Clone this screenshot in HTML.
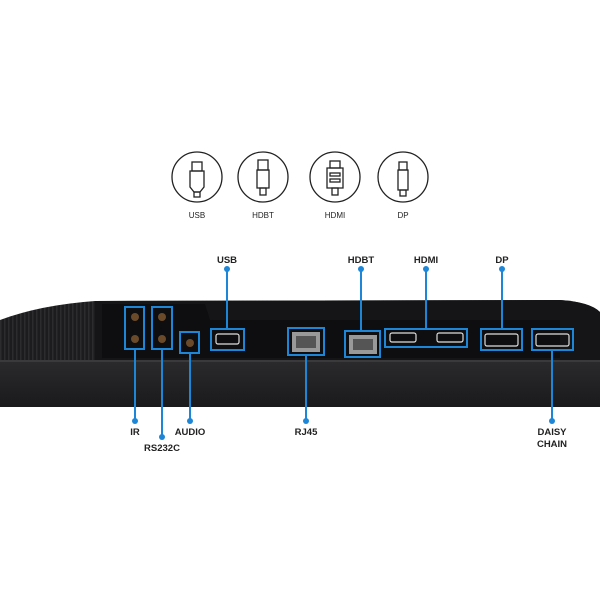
<!DOCTYPE html>
<html><head><meta charset="utf-8"><style>body{margin:0;background:#fff}svg{display:block}</style></head><body>
<svg width="600" height="600" viewBox="0 0 600 600" xmlns="http://www.w3.org/2000/svg" font-family="Liberation Sans, sans-serif">
<defs>
<linearGradient id="bar" x1="0" y1="0" x2="0" y2="1"><stop offset="0" stop-color="#2a2a2c"/><stop offset="1" stop-color="#1a1a1c"/></linearGradient>
<pattern id="grv" width="4" height="10" patternUnits="userSpaceOnUse"><rect width="4" height="10" fill="#1c1c1e"/><rect width="1.5" height="10" fill="#2c2c2e"/></pattern>
</defs>
<!-- icons -->
<g fill="none" stroke="#222" stroke-width="1.3">
<circle cx="197" cy="177" r="25"/><circle cx="263" cy="177" r="25"/><circle cx="335" cy="177" r="25"/><circle cx="403" cy="177" r="25"/>
<rect x="192" y="162" width="10" height="9"/><path d="M190 171h14v16l-4 5h-6l-4-5z"/><rect x="194" y="192" width="6" height="5"/>
<rect x="258" y="160" width="10" height="10"/><path d="M257 170h12v18h-12z"/><rect x="260" y="188" width="6" height="7"/>
<rect x="330" y="161" width="10" height="7"/><path d="M327 168h16v20h-16z"/><rect x="330" y="173" width="10" height="3"/><rect x="330" y="179" width="10" height="3"/><rect x="332" y="188" width="6" height="7"/>
<rect x="399" y="162" width="8" height="8"/><path d="M398 170h10v20h-10z"/><rect x="400" y="190" width="6" height="6"/>
</g>
<g font-size="8" fill="#222" text-anchor="middle"><text x="197" y="218">USB</text><text x="263" y="218">HDBT</text><text x="335" y="218">HDMI</text><text x="403" y="218">DP</text></g>
<!-- monitor -->
<path d="M0 320 Q40 305 95 301 L560 300 Q590 302 600 312 L600 362 L0 362Z" fill="url(#grv)"/>
<path d="M95 301 L560 300 Q590 302 600 312 L600 362 L95 362Z" fill="#151517"/>
<path d="M102 304 L205 304 L210 320 L560 320 L560 358 L102 358Z" fill="#0e0e10"/>
<rect x="0" y="360" width="600" height="2" fill="#3a3a3c"/>
<rect x="0" y="362" width="600" height="45" fill="url(#bar)"/>
<!-- ports -->
<g fill="#6b4a2a"><circle cx="135" cy="317" r="4"/><circle cx="135" cy="339" r="4"/><circle cx="162" cy="317" r="4"/><circle cx="162" cy="339" r="4"/><circle cx="190" cy="343" r="4"/></g>
<g fill="none" stroke="#ddd" stroke-width="1.2"><rect x="216" y="334" width="23" height="10" rx="2"/><rect x="390" y="333" width="26" height="9" rx="2"/><rect x="437" y="333" width="26" height="9" rx="2"/><rect x="485" y="334" width="33" height="12" rx="2"/><rect x="536" y="334" width="33" height="12" rx="2"/></g>
<rect x="292" y="332" width="28" height="20" fill="#999"/><rect x="296" y="336" width="20" height="12" fill="#555"/>
<rect x="349" y="335" width="28" height="19" fill="#999"/><rect x="353" y="339" width="20" height="11" fill="#555"/>
<!-- callouts -->
<g fill="none" stroke="#1e86d6" stroke-width="2">
<rect x="125" y="307" width="19" height="42"/><rect x="152" y="307" width="20" height="42"/><rect x="180" y="332" width="19" height="21"/><rect x="211" y="329" width="33" height="21"/>
<rect x="288" y="328" width="36" height="27"/><rect x="345" y="331" width="35" height="26"/><rect x="385" y="329" width="82" height="18"/><rect x="481" y="329" width="41" height="21"/><rect x="532" y="329" width="41" height="21"/>
<path d="M135 349V421M162 349V437M190 353V421M227 269V329M306 355V421M361 269V331M426 269V329M502 269V329M552 350V421"/>
</g>
<g fill="#1e86d6"><circle cx="135" cy="421" r="3"/><circle cx="162" cy="437" r="3"/><circle cx="190" cy="421" r="3"/><circle cx="227" cy="269" r="3"/><circle cx="306" cy="421" r="3"/><circle cx="361" cy="269" r="3"/><circle cx="426" cy="269" r="3"/><circle cx="502" cy="269" r="3"/><circle cx="552" cy="421" r="3"/></g>
<g font-size="9.5" font-weight="bold" fill="#222" text-anchor="middle">
<text x="227" y="263">USB</text><text x="361" y="263">HDBT</text><text x="426" y="263">HDMI</text><text x="502" y="263">DP</text>
<text x="135" y="435">IR</text><text x="162" y="451">RS232C</text><text x="190" y="435">AUDIO</text><text x="306" y="435">RJ45</text>
<text x="552" y="435">DAISY</text><text x="552" y="447">CHAIN</text></g>
</svg>
</body></html>
